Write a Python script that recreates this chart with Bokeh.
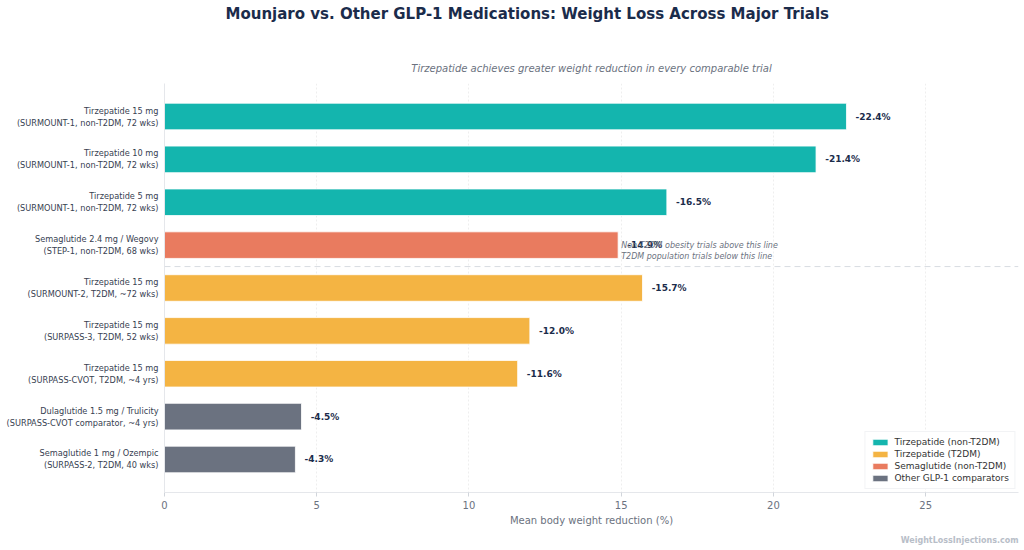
from bokeh.plotting import figure
from bokeh.models import Range1d, FixedTicker, Label, Span, Legend, LegendItem, ColumnDataSource, Title
from bokeh.core.properties import value
from bokeh.embed import file_html
from bokeh.resources import INLINE

labels = [
    "Tirzepatide 15 mg\n(SURMOUNT-1, non-T2DM, 72 wks)",
    "Tirzepatide 10 mg\n(SURMOUNT-1, non-T2DM, 72 wks)",
    "Tirzepatide 5 mg\n(SURMOUNT-1, non-T2DM, 72 wks)",
    "Semaglutide 2.4 mg / Wegovy\n(STEP-1, non-T2DM, 68 wks)",
    "Tirzepatide 15 mg\n(SURMOUNT-2, T2DM, ~72 wks)",
    "Tirzepatide 15 mg\n(SURPASS-3, T2DM, 52 wks)",
    "Tirzepatide 15 mg\n(SURPASS-CVOT, T2DM, ~4 yrs)",
    "Dulaglutide 1.5 mg / Trulicity\n(SURPASS-CVOT comparator, ~4 yrs)",
    "Semaglutide 1 mg / Ozempic\n(SURPASS-2, T2DM, 40 wks)",
]
values = [22.4, 21.4, 16.5, 14.9, 15.7, 12.0, 11.6, 4.5, 4.3]
groups = ["Tirzepatide (non-T2DM)"] * 3 + ["Semaglutide (non-T2DM)"] + ["Tirzepatide (T2DM)"] * 3 + ["Other GLP-1 comparators"] * 2
group_order = ["Tirzepatide (non-T2DM)", "Tirzepatide (T2DM)", "Semaglutide (non-T2DM)", "Other GLP-1 comparators"]
group_colors = {"Tirzepatide (non-T2DM)": "#14b5ae", "Tirzepatide (T2DM)": "#f4b443",
                "Semaglutide (non-T2DM)": "#e97b5f", "Other GLP-1 comparators": "#6b7280"}
x_ticks = [0, 5, 10, 15, 20, 25]

FONT = "DejaVu Sans"
NAVY = "#1b2c4b"
GRAY = "#6b7280"

n = len(labels)
p = figure(width=1024, height=550, output_backend="svg", toolbar_location=None,
           x_range=Range1d(0, 28.05), y_range=Range1d(n - 1 + 0.77, -0.77),
           min_border_left=164, min_border_right=6, min_border_top=0, min_border_bottom=4)
p.title.visible = False
p.outline_line_color = None

sub = Title(text="Tirzepatide achieves greater weight reduction in every comparable trial", align="center",
            text_font=FONT, text_font_style="italic", text_font_size="10px", text_color=GRAY, standoff=19)
p.add_layout(sub, "above")
spacer = Title(text=" ", text_font_size="10px", standoff=13)
p.add_layout(spacer, "above")
main = Title(text="Mounjaro vs. Other GLP-1 Medications: Weight Loss Across Major Trials", align="left", offset=61,
             text_font=FONT, text_font_style="bold", text_font_size="15px", text_color=NAVY, standoff=5)
p.add_layout(main, "above")

items = []
for g in group_order:
    idx = [i for i in range(n) if groups[i] == g]
    src = ColumnDataSource(dict(y=idx, v=[values[i] for i in idx]))
    r = p.hbar(y="y", right="v", left=0, height=0.62, source=src, fill_color=group_colors[g],
               line_color="white", line_width=0.8)
    items.append(LegendItem(label=g, renderers=[r]))

lsrc = ColumnDataSource(dict(x=[v + 0.3 for v in values], y=list(range(n)), t=["-%.1f%%" % v for v in values]))
p.text(x="x", y="y", text="t", source=lsrc, text_font=value(FONT), text_font_style="bold",
       text_font_size="9px", text_color=NAVY, text_align="left", text_baseline="middle")

p.add_layout(Span(location=3.5, dimension="width", line_color="#d8dce2", line_dash="6 4", line_width=1))
p.add_layout(Label(x=15.0, y=3.0, text="Non-T2DM obesity trials above this line", text_font=FONT,
                   text_font_style="italic", text_font_size="8px", text_color=GRAY,
                   text_baseline="middle"))
p.add_layout(Label(x=15.0, y=3.26, text="T2DM population trials below this line", text_font=FONT,
                   text_font_style="italic", text_font_size="8px", text_color=GRAY,
                   text_baseline="middle"))

leg = Legend(items=items, location="bottom_right", label_text_font=FONT, label_text_font_size="9px",
             label_text_color="#333333", glyph_width=19, glyph_height=8, label_height=9,
             spacing=2, padding=5, margin=3, border_line_color="#e5e7eb", background_fill_alpha=0.9)
p.add_layout(leg)

p.xaxis.ticker = FixedTicker(ticks=x_ticks)
p.xaxis.axis_label = "Mean body weight reduction (%)"
p.xaxis.axis_label_text_font = FONT
p.xaxis.axis_label_text_font_style = "normal"
p.xaxis.axis_label_text_font_size = "10px"
p.xaxis.axis_label_text_color = GRAY
p.xaxis.axis_label_standoff = 3
p.xaxis.major_label_text_font = FONT
p.xaxis.major_label_text_font_size = "10px"
p.xaxis.major_label_text_color = GRAY
p.xaxis.major_label_standoff = 4
p.xaxis.axis_line_color = "#e5e7eb"
p.xaxis.major_tick_line_color = "#d1d5db"
p.xaxis.minor_tick_line_color = None
p.xaxis.major_tick_out = 4
p.xaxis.major_tick_in = 0

p.yaxis.ticker = FixedTicker(ticks=list(range(n)))
p.yaxis.major_label_overrides = {i: labels[i] for i in range(n)}
p.yaxis.major_label_text_font = FONT
p.yaxis.major_label_text_font_size = "8.2px"
p.yaxis.major_label_text_color = "#374151"
p.yaxis.major_label_standoff = 6
p.yaxis.axis_line_color = "#e5e7eb"
p.yaxis.major_tick_line_color = None
p.yaxis.major_tick_out = 0
p.yaxis.minor_tick_line_color = None

p.xgrid.grid_line_color = "#eeeeee"
p.xgrid.grid_line_dash = "2 2"
p.ygrid.grid_line_color = None

wm = Title(text="WeightLossInjections.com", align="right", text_font=FONT, text_font_style="bold",
           text_font_size="8px", text_color="#b8bec8", standoff=11)
p.add_layout(wm, "below")

open("out.html", "w").write(file_html(p, INLINE))
